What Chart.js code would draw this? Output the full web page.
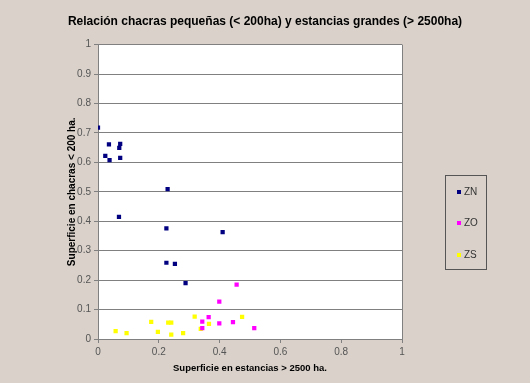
<!DOCTYPE html>
<html>
<head>
<meta charset="utf-8">
<script src="https://cdn.jsdelivr.net/npm/chart.js@4.4.1/dist/chart.umd.min.js"></script>
<style>
  html, body { margin: 0; padding: 0; background: #D9D1CA; }
  #wrap { position: relative; width: 530px; height: 383px; }
  #legend { position: absolute; left: 445px; top: 175px; width: 40px; height: 93px;
            border: 1px solid #555; font-family: "Liberation Sans", Arial, sans-serif; font-size: 10px; color: #333; }
  .item { position: absolute; left: 11px; height: 12px; line-height: 12px; }
  .sw { display: inline-block; width: 4px; height: 4px; margin-right: 3px; vertical-align: 1px; }
</style>
</head>
<body>
<div id="wrap">
  <canvas id="c" width="530" height="383"></canvas>
  <div id="legend"></div>
</div>
<script>
const seriesNames = ["ZN", "ZO", "ZS"];
const seriesColors = ["#000080", "#FF00FF", "#FFFF00"];
const znX = [0.000, 0.024, 0.036, 0.038, 0.070, 0.073, 0.073, 0.069, 0.229, 0.225, 0.410, 0.225, 0.253, 0.288];
const znY = [0.718, 0.622, 0.661, 0.608, 0.649, 0.663, 0.615, 0.415, 0.509, 0.376, 0.363, 0.259, 0.255, 0.190];
const zoX = [0.456, 0.399, 0.364, 0.343, 0.343, 0.399, 0.444, 0.514];
const zoY = [0.185, 0.127, 0.074, 0.059, 0.037, 0.053, 0.057, 0.037];
const zsX = [0.058, 0.094, 0.175, 0.197, 0.231, 0.241, 0.241, 0.280, 0.318, 0.338, 0.365, 0.474];
const zsY = [0.027, 0.020, 0.058, 0.024, 0.056, 0.056, 0.015, 0.020, 0.076, 0.034, 0.051, 0.075];
const title = "Relación chacras pequeñas (< 200ha) y estancias grandes (> 2500ha)";
const xTitle = "Superficie en estancias > 2500 ha.";
const yTitle = "Superficie en chacras < 200 ha.";

function pts(xs, ys) { return xs.map((x, i) => ({ x: x, y: ys[i] })); }
const seriesData = [pts(znX, znY), pts(zoX, zoY), pts(zsX, zsY)];

const FONT = "'Liberation Sans', Arial, sans-serif";

const plotBg = {
  id: 'plotBg',
  beforeDraw(chart) {
    const { ctx, chartArea: a } = chart;
    ctx.save();
    ctx.fillStyle = '#D9D1CA';
    ctx.fillRect(0, 0, chart.width, chart.height);
    ctx.fillStyle = '#FFFFFF';
    ctx.fillRect(a.left, a.top, a.right - a.left, a.bottom - a.top);
    ctx.restore();
  },
  afterDatasetsDraw(chart) {
    const { ctx, chartArea: a } = chart;
    ctx.save();
    ctx.strokeStyle = '#808080';
    ctx.lineWidth = 1;
    ctx.beginPath();
    ctx.moveTo(Math.round(a.right) + 0.5, a.top);
    ctx.lineTo(Math.round(a.right) + 0.5, a.bottom);
    ctx.stroke();
    ctx.restore();
  }
};

const chart = new Chart(document.getElementById('c'), {
  type: 'scatter',
  data: {
    datasets: seriesNames.map((n, i) => ({
      label: n,
      data: seriesData[i],
      backgroundColor: seriesColors[i],
      borderColor: seriesColors[i],
      borderWidth: 0,
      pointStyle: 'rect',
      pointRadius: 3,
      pointHoverRadius: 3
    }))
  },
  options: {
    responsive: false,
    animation: false,
    layout: { padding: 0 },
    plugins: {
      legend: { display: false },
      tooltip: { enabled: false },
      title: {
        display: true,
        text: title,
        color: '#000',
        font: { family: FONT, size: 12, weight: 'bold', lineHeight: 1.3 },
        padding: { top: 14, bottom: 15 }
      }
    },
    scales: {
      x: {
        type: 'linear',
        min: 0, max: 1,
        afterFit(s) { s.height = 44; },
        ticks: { stepSize: 0.2, color: '#555', font: { family: FONT, size: 10 }, padding: 3,
                 callback: v => String(Math.round(v * 10) / 10) },
        grid: { drawOnChartArea: false, drawTicks: true, tickLength: 4, color: '#808080' },
        border: { color: '#808080' },
        title: { display: true, text: xTitle, color: '#000',
                 font: { family: FONT, size: 9.5, weight: 'bold', lineHeight: 1.2 },
                 padding: 9 }
      },
      y: {
        type: 'linear',
        min: 0, max: 1,
        afterFit(s) { s.width = 98; },
        ticks: { stepSize: 0.1, color: '#555', font: { family: FONT, size: 10 }, padding: 3,
                 callback: v => String(Math.round(v * 10) / 10) },
        grid: { color: '#808080', tickLength: 4 },
        border: { color: '#808080' },
        title: { display: true, text: yTitle, color: '#000',
                 font: { family: FONT, size: 10, weight: 'bold', lineHeight: 1.2 },
                 padding: { top: 66, bottom: 0 } }
      },
      ySpace: {
        type: 'linear',
        position: 'right',
        min: 0, max: 1,
        afterFit(s) { s.width = 128; },
        ticks: { display: false },
        grid: { display: false, drawTicks: false },
        border: { display: false }
      }
    }
  },
  plugins: [plotBg]
});

const lg = document.getElementById('legend');
const tops = [10, 41, 73];
chart.data.datasets.forEach((d, i) => {
  const it = document.createElement('div');
  it.className = 'item';
  it.style.top = tops[i] + 'px';
  const sw = document.createElement('span');
  sw.className = 'sw';
  sw.style.background = d.backgroundColor;
  it.appendChild(sw);
  it.appendChild(document.createTextNode(d.label));
  lg.appendChild(it);
});
</script>
</body>
</html>
